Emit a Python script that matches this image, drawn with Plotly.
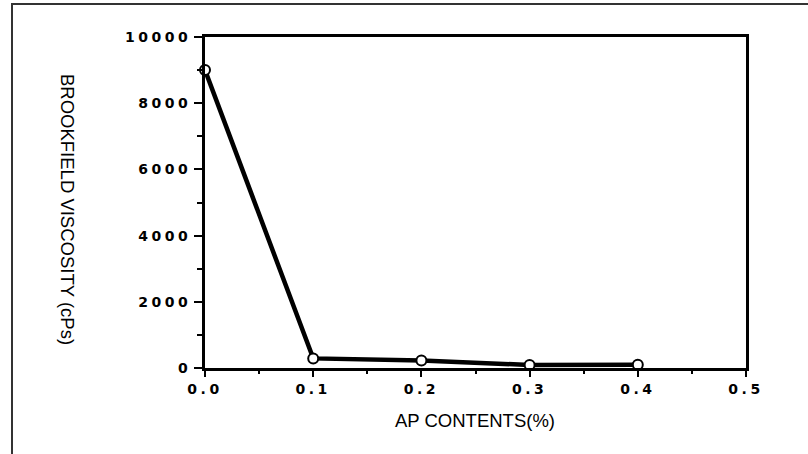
import plotly.graph_objects as go

ap_content = [0.0, 0.1, 0.2, 0.3, 0.4]
viscosity = [9000, 290, 230, 90, 100]

x_tick_vals = [0.0, 0.1, 0.2, 0.3, 0.4, 0.5]
y_tick_vals = [0, 2000, 4000, 6000, 8000, 10000]

W, H = 808, 454
L, R, T, B = 205, 62, 37, 86
pw, ph = W - L - R, H - T - B

def px_x(p):
    return (p - L) / pw

def px_y(p):
    return (H - B - p) / ph

fig = go.Figure()
fig.add_trace(go.Scatter(
    x=ap_content, y=viscosity, mode="lines+markers",
    line=dict(color="black", width=4.5),
    marker=dict(symbol="circle", size=10, color="white",
                line=dict(color="black", width=2)),
    showlegend=False, cliponaxis=False,
))

tick_font = dict(family="DejaVu Sans", size=14, color="black", weight="bold")

fig.update_xaxes(
    range=[0, 0.5], tickvals=x_tick_vals, tickformat=".1f",
    showline=True, linecolor="black", linewidth=3, mirror=True,
    ticks="outside", ticklen=6, tickwidth=2, tickcolor="black",
    minor=dict(dtick=0.05, ticks="outside", ticklen=3, tickwidth=2, tickcolor="black"),
    showgrid=False, zeroline=False, tickfont=tick_font, ticklabelstandoff=0,
)
fig.update_yaxes(
    range=[0, 10000], tickvals=y_tick_vals, tickformat="d",
    showline=True, linecolor="black", linewidth=3, mirror=True,
    ticks="outside", ticklen=8, tickwidth=2, tickcolor="black",
    minor=dict(dtick=1000, ticks="outside", ticklen=5, tickwidth=2, tickcolor="black"),
    showgrid=False, zeroline=False, tickfont=tick_font,
)

title_font = dict(family="Liberation Sans", size=18.5, color="black")
fig.add_annotation(text="BROOKFIELD VISCOSITY (cPs)", xref="paper", yref="paper",
                   x=px_x(68), y=px_y(209), textangle=90, showarrow=False,
                   font=title_font, xanchor="center", yanchor="middle")
fig.add_annotation(text="AP CONTENTS(%)", xref="paper", yref="paper",
                   x=px_x(475), y=px_y(420), showarrow=False,
                   font=title_font, xanchor="center", yanchor="middle")

# outer frame lines
fig.add_shape(type="line", xref="paper", yref="paper",
              x0=px_x(11), x1=px_x(808), y0=px_y(4), y1=px_y(4),
              line=dict(color="#333", width=2))
fig.add_shape(type="line", xref="paper", yref="paper",
              x0=px_x(12), x1=px_x(12), y0=px_y(4), y1=px_y(454),
              line=dict(color="#333", width=2))

fig.update_layout(
    width=W, height=H, margin=dict(l=L, r=R, t=T, b=B),
    paper_bgcolor="white", plot_bgcolor="white",
)

spacing_js = (
    "document.querySelectorAll('.xtick text, .ytick text')"
    ".forEach(function(t){t.style.letterSpacing='3.5px';});"
)
fig.write_html("out.html", post_script=spacing_js)
